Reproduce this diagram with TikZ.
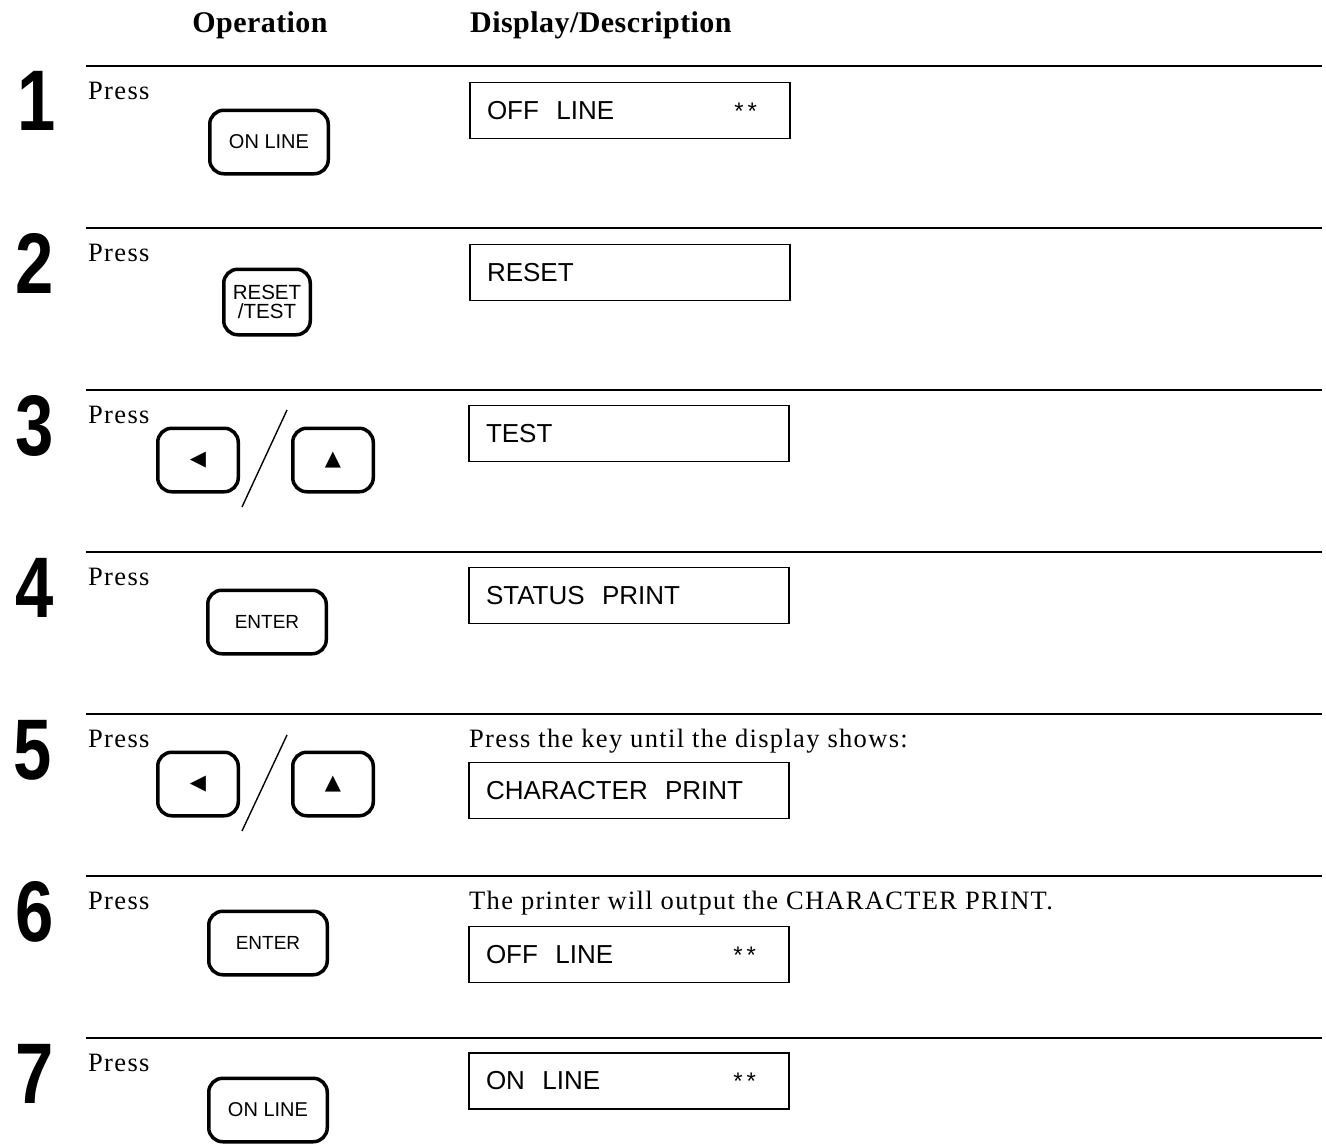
\documentclass[tikz,border=0pt]{standalone}
\usepackage{fontspec}
\setmainfont{Liberation Serif}
\newfontfamily\pressfont[LetterSpace=5]{Liberation Serif}
\newfontfamily\hdrfont[LetterSpace=1.5]{Liberation Serif Bold}
\newfontfamily\lcdfont{Liberation Sans}
\newfontfamily\keyfont{Liberation Sans}
\newfontfamily\numfont[FakeStretch=0.8]{Liberation Sans Bold}
\newfontfamily\symfont{DejaVu Sans}
\begin{document}
\begin{tikzpicture}[x=1pt,y=-1pt,
  rule/.style={line width=1.6pt},
  hdr/.style={font=\hdrfont\fontsize{30}{32}\selectfont, inner sep=0pt},
  stepnum/.style={font=\numfont\fontsize{86}{86}\selectfont, inner sep=0pt, anchor=base},
  presstxt/.style={font=\pressfont\fontsize{26.5}{28}\selectfont, inner sep=0pt, anchor=base west},
  lcd/.style={draw, line width=1.8pt, minimum width=320pt, minimum height=56pt, text width=286pt, inner xsep=17pt, inner ysep=0pt, align=left, font=\lcdfont\fontsize{26}{28}\selectfont},
  keybox/.style={draw, line width=3.5pt, rounded corners=14pt, minimum width=118.5pt, minimum height=63.5pt, inner sep=0pt, align=center, font=\keyfont\fontsize{20}{19}\selectfont},
  enterkey/.style={keybox, font=\keyfont\fontsize{19}{19}\selectfont},
  smallkey/.style={keybox, minimum width=80.5pt, font=\symfont\fontsize{21}{21}\selectfont},
  slash/.style={line width=1.4pt}
]
\useasboundingbox (0,0) rectangle (1326,1144);

% headers
\node[hdr, anchor=base] (hop) at (260,32) {Operation};
\node[hdr, anchor=base west] (hdd) at (470,32) {Display/Description};

% rules
\draw[rule] (86,66) -- (1322,66);
\draw[rule] (86,228) -- (1322,228);
\draw[rule] (86,390) -- (1322,390);
\draw[rule] (86,552) -- (1322,552);
\draw[rule] (86,714) -- (1322,714);
\draw[rule] (86,876) -- (1322,876);
\draw[rule] (86,1038) -- (1322,1038);

% step numbers
\node[stepnum] (n1) at (37,130) {1};
\node[stepnum] (n2) at (35,293) {2};
\node[stepnum] (n3) at (35,455) {3};
\node[stepnum] (n4) at (35,617) {4};
\node[stepnum] (n5) at (33,779) {5};
\node[stepnum] (n6) at (35,941) {6};
\node[stepnum] (n7) at (35,1103) {7};

% Press
\node[presstxt] (p1) at (88,99) {Press};
\node[presstxt] (p2) at (88,261) {Press};
\node[presstxt] (p3) at (88,423) {Press};
\node[presstxt] (p4) at (88,585) {Press};
\node[presstxt] (p5) at (88,747) {Press};
\node[presstxt] (p6) at (88,909) {Press};
\node[presstxt] (p7) at (88,1071) {Press};

% keys
\node[keybox] (k1) at (269,142) {ON LINE};
\node[keybox, minimum width=86.5pt, minimum height=65.5pt, font=\keyfont\fontsize{20.5}{19}\selectfont] (k2) at (267,302) {RESET\\/TEST};
\node[smallkey] (k3l) at (198,460) {◀};
\node[smallkey] (k3r) at (333,460) {▲};
\coordinate (s3a) at (287,410);
\coordinate (s3b) at (242,507);
\draw[slash] (s3a) -- (s3b);
\node[enterkey] (k4) at (267,622) {ENTER};
\node[smallkey] (k5l) at (198,784) {◀};
\node[smallkey] (k5r) at (333,784) {▲};
\coordinate (s5a) at (287,735);
\coordinate (s5b) at (242,831);
\draw[slash] (s5a) -- (s5b);
\node[enterkey] (k6) at (268,943) {ENTER};
\node[keybox] (k7) at (268,1110) {ON LINE};

% displays
\newcommand\lcdstars{\hfill{\fontsize{24}{24}\selectfont *\,*}\hspace*{16pt}\mbox{}}
\node[lcd] (d1) at (630,110.5) {OFF~~LINE\lcdstars};
\node[lcd] (d2) at (630,272.5) {RESET};
\node[lcd] (d3) at (629,433.5) {TEST};
\node[lcd] (d4) at (629,595.5) {STATUS~~PRINT};
\node[presstxt] (t5) at (469,747) {Press the key until the display shows:};
\node[lcd] (d5) at (629,790.5) {CHARACTER~~PRINT};
\node[presstxt] (t6) at (469,909) {The printer will output the CHARACTER PRINT.};
\node[lcd] (d6) at (629,954.5) {OFF~~LINE\lcdstars};
\node[lcd] (d7) at (629,1081) {ON~~LINE\lcdstars};
\end{tikzpicture}
\end{document}
